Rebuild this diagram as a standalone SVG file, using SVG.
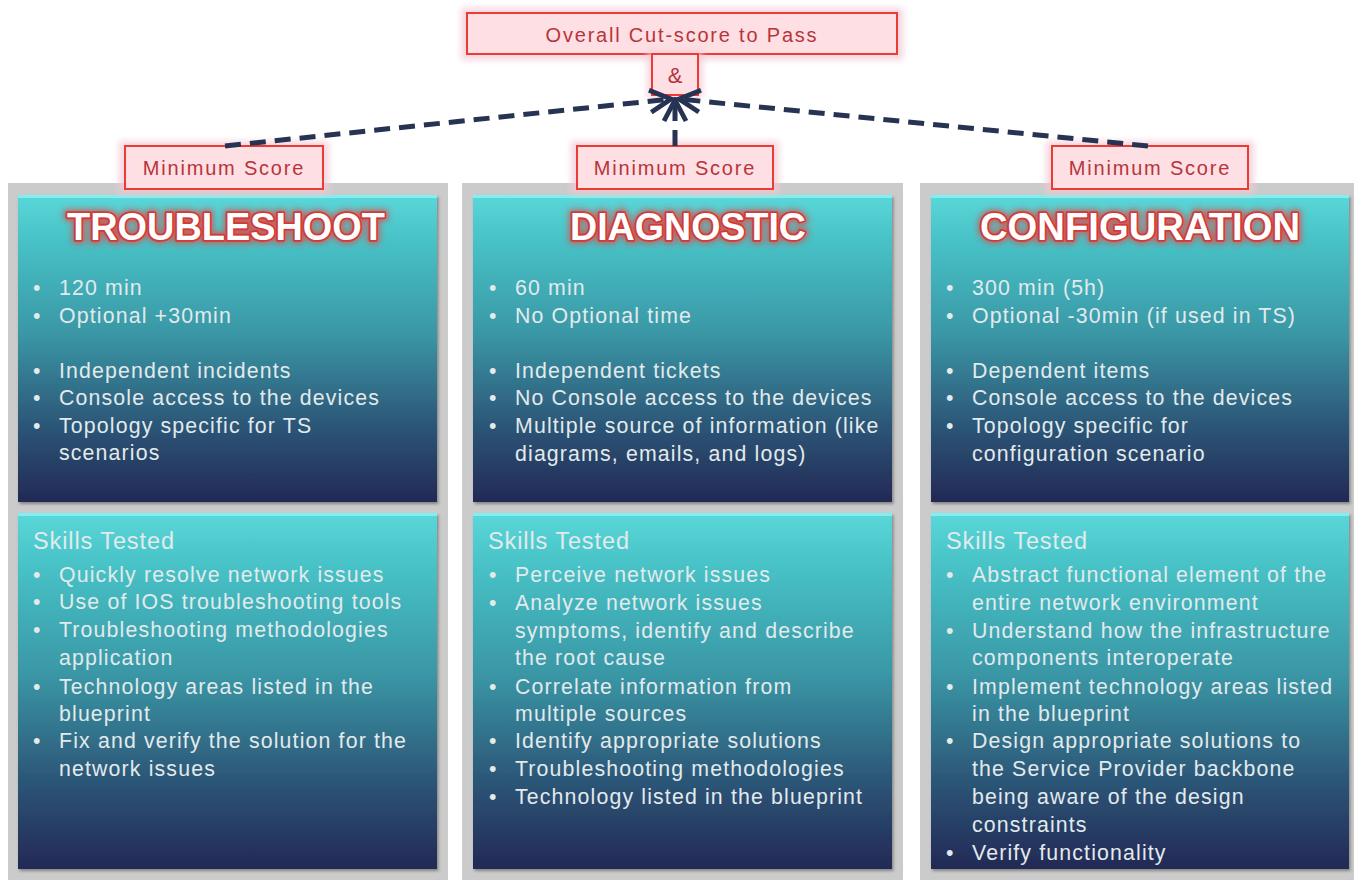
<svg xmlns="http://www.w3.org/2000/svg" width="1354" height="882" viewBox="0 0 1354 882">
  <style>
    .panel { fill: #cbcbcb; }
    .card { fill: url(#cardGrad); filter: url(#cardShadow); }
    .bevel { fill: #86f2f2; opacity: 0.9; }
    .title { font-family: "Liberation Sans", Arial, sans-serif; font-weight: 700; font-size: 38px; text-anchor: middle; }
    .title-glow { fill: #e04a48; stroke: #e04a48; stroke-width: 7; filter: url(#soften); opacity: 0.8; }
    .title-main { fill: #ffffff; stroke: #d23a36; stroke-width: 3.6; paint-order: stroke; stroke-linejoin: round; }
    .body { font-family: "Liberation Sans", Arial, sans-serif; font-size: 21.3px; letter-spacing: 1.15px; fill: #e2eaec; }
    .head { font-size: 23.5px; letter-spacing: 0.9px; }
    .tag-halo { fill: #f3c9d3; opacity: 0.75; filter: url(#soften); }
    .tag { fill: #fddfe4; stroke: #ec3b34; stroke-width: 2; }
    .tag-text { font-family: "Liberation Sans", Arial, sans-serif; font-size: 20px; letter-spacing: 1.8px; fill: #b8343a; text-anchor: middle; }
    .amp { font-size: 22px; letter-spacing: 0; }
    .link { fill: none; stroke: #263352; stroke-width: 5; stroke-dasharray: 16 9; }
  </style>
  <defs>
    <linearGradient id="cardGrad" x1="0" y1="0" x2="0" y2="1">
      <stop offset="0" stop-color="#5ad7d9"/>
      <stop offset="0.15" stop-color="#47c2c6"/>
      <stop offset="0.45" stop-color="#3a97a6"/>
      <stop offset="0.75" stop-color="#2c5677"/>
      <stop offset="1" stop-color="#232955"/>
    </linearGradient>
    <filter id="cardShadow" x="-5%" y="-5%" width="110%" height="110%">
      <feDropShadow dx="1.5" dy="2" stdDeviation="1.5" flood-color="#000" flood-opacity="0.35"/>
    </filter>
    <filter id="soften" x="-20%" y="-40%" width="140%" height="180%">
      <feGaussianBlur stdDeviation="3"/>
    </filter>
    <marker id="chevron" viewBox="0 0 28 28" refX="25" refY="14" markerWidth="28" markerHeight="28" markerUnits="userSpaceOnUse" orient="auto">
      <path d="M4,3 L25,14 L4,25" fill="none" stroke="#263352" stroke-width="4.8" stroke-linejoin="miter"/>
    </marker>
  </defs>

  <!-- gray backing panels -->
  <rect class="panel" x="8" y="183" width="440" height="697"/>
  <rect class="panel" x="462" y="183" width="441" height="697"/>
  <rect class="panel" x="920" y="183" width="434" height="697"/>

  <!-- top targets -->
  <g id="overall">
    <rect class="tag-halo" x="461" y="8" width="442" height="52"/>
    <rect class="tag" x="467" y="13" width="430" height="41"/>
    <text class="tag-text" x="682" y="42">Overall Cut-score to Pass</text>
  </g>
  <g id="and">
    <rect class="tag-halo" x="647" y="50" width="56" height="48"/>
    <rect class="tag" x="652" y="54" width="46" height="41"/>
    <text class="tag-text amp" x="675" y="83">&amp;</text>
  </g>

  <!-- TROUBLESHOOT column -->
  <g id="troubleshoot">
    <rect class="card" x="18" y="195" width="419" height="307"/>
    <rect class="bevel" x="18" y="195" width="419" height="3"/>
    <text class="title title-glow" x="226" y="240" textLength="318" lengthAdjust="spacingAndGlyphs">TROUBLESHOOT</text>
    <text class="title title-main" x="226" y="240" textLength="318" lengthAdjust="spacingAndGlyphs">TROUBLESHOOT</text>
    <text class="body">
      <tspan x="33" y="295">•</tspan><tspan x="59" y="295">120 min</tspan>
      <tspan x="33" y="323">•</tspan><tspan x="59" y="323">Optional +30min</tspan>
      <tspan x="33" y="378">•</tspan><tspan x="59" y="378">Independent incidents</tspan>
      <tspan x="33" y="405">•</tspan><tspan x="59" y="405">Console access to the devices</tspan>
      <tspan x="33" y="433">•</tspan><tspan x="59" y="433">Topology specific for TS</tspan>
      <tspan x="59" y="460">scenarios</tspan>
    </text>
  </g>
  <g id="troubleshoot-skills">
    <rect class="card" x="18" y="513" width="419" height="356"/>
    <rect class="bevel" x="18" y="513" width="419" height="3"/>
    <text class="body">
      <tspan class="head" x="33" y="549">Skills Tested</tspan>
      <tspan x="33" y="582">•</tspan><tspan x="59" y="582">Quickly resolve network issues</tspan>
      <tspan x="33" y="609">•</tspan><tspan x="59" y="609">Use of IOS troubleshooting tools</tspan>
      <tspan x="33" y="637">•</tspan><tspan x="59" y="637">Troubleshooting methodologies</tspan>
      <tspan x="59" y="665">application</tspan>
      <tspan x="33" y="694">•</tspan><tspan x="59" y="694">Technology areas listed in the</tspan>
      <tspan x="59" y="721">blueprint</tspan>
      <tspan x="33" y="748">•</tspan><tspan x="59" y="748">Fix and verify the solution for the</tspan>
      <tspan x="59" y="776">network issues</tspan>
    </text>
  </g>
  <g id="troubleshoot-min">
    <rect class="tag-halo" x="119" y="141" width="210" height="53"/>
    <rect class="tag" x="125" y="146" width="198" height="43"/>
    <text class="tag-text" x="224" y="175">Minimum Score</text>
  </g>

  <!-- DIAGNOSTIC column -->
  <g id="diagnostic">
    <rect class="card" x="473" y="195" width="419" height="307"/>
    <rect class="bevel" x="473" y="195" width="419" height="3"/>
    <text class="title title-glow" x="688" y="240" textLength="236" lengthAdjust="spacingAndGlyphs">DIAGNOSTIC</text>
    <text class="title title-main" x="688" y="240" textLength="236" lengthAdjust="spacingAndGlyphs">DIAGNOSTIC</text>
    <text class="body">
      <tspan x="489" y="295">•</tspan><tspan x="515" y="295">60 min</tspan>
      <tspan x="489" y="323">•</tspan><tspan x="515" y="323">No Optional time</tspan>
      <tspan x="489" y="378">•</tspan><tspan x="515" y="378">Independent tickets</tspan>
      <tspan x="489" y="405">•</tspan><tspan x="515" y="405">No Console access to the devices</tspan>
      <tspan x="489" y="433">•</tspan><tspan x="515" y="433">Multiple source of information (like</tspan>
      <tspan x="515" y="461">diagrams, emails, and logs)</tspan>
    </text>
  </g>
  <g id="diagnostic-skills">
    <rect class="card" x="473" y="513" width="419" height="356"/>
    <rect class="bevel" x="473" y="513" width="419" height="3"/>
    <text class="body">
      <tspan class="head" x="488" y="549">Skills Tested</tspan>
      <tspan x="489" y="582">•</tspan><tspan x="515" y="582">Perceive network issues</tspan>
      <tspan x="489" y="610">•</tspan><tspan x="515" y="610">Analyze network issues</tspan>
      <tspan x="515" y="638">symptoms, identify and describe</tspan>
      <tspan x="515" y="665">the root cause</tspan>
      <tspan x="489" y="694">•</tspan><tspan x="515" y="694">Correlate information from</tspan>
      <tspan x="515" y="721">multiple sources</tspan>
      <tspan x="489" y="748">•</tspan><tspan x="515" y="748">Identify appropriate solutions</tspan>
      <tspan x="489" y="776">•</tspan><tspan x="515" y="776">Troubleshooting methodologies</tspan>
      <tspan x="489" y="804">•</tspan><tspan x="515" y="804">Technology listed in the blueprint</tspan>
    </text>
  </g>
  <g id="diagnostic-min">
    <rect class="tag-halo" x="571" y="141" width="208" height="53"/>
    <rect class="tag" x="577" y="146" width="196" height="43"/>
    <text class="tag-text" x="675" y="175">Minimum Score</text>
  </g>

  <!-- CONFIGURATION column -->
  <g id="configuration">
    <rect class="card" x="931" y="195" width="418" height="307"/>
    <rect class="bevel" x="931" y="195" width="418" height="3"/>
    <text class="title title-glow" x="1140" y="240" textLength="320" lengthAdjust="spacingAndGlyphs">CONFIGURATION</text>
    <text class="title title-main" x="1140" y="240" textLength="320" lengthAdjust="spacingAndGlyphs">CONFIGURATION</text>
    <text class="body">
      <tspan x="946" y="295">•</tspan><tspan x="972" y="295">300 min (5h)</tspan>
      <tspan x="946" y="323">•</tspan><tspan x="972" y="323">Optional -30min (if used in TS)</tspan>
      <tspan x="946" y="378">•</tspan><tspan x="972" y="378">Dependent items</tspan>
      <tspan x="946" y="405">•</tspan><tspan x="972" y="405">Console access to the devices</tspan>
      <tspan x="946" y="433">•</tspan><tspan x="972" y="433">Topology specific for</tspan>
      <tspan x="972" y="461">configuration scenario</tspan>
    </text>
  </g>
  <g id="configuration-skills">
    <rect class="card" x="931" y="513" width="418" height="356"/>
    <rect class="bevel" x="931" y="513" width="418" height="3"/>
    <text class="body">
      <tspan class="head" x="946" y="549">Skills Tested</tspan>
      <tspan x="946" y="582">•</tspan><tspan x="972" y="582">Abstract functional element of the</tspan>
      <tspan x="972" y="610">entire network environment</tspan>
      <tspan x="946" y="638">•</tspan><tspan x="972" y="638">Understand how the infrastructure</tspan>
      <tspan x="972" y="665">components interoperate</tspan>
      <tspan x="946" y="694">•</tspan><tspan x="972" y="694">Implement technology areas listed</tspan>
      <tspan x="972" y="721">in the blueprint</tspan>
      <tspan x="946" y="748">•</tspan><tspan x="972" y="748">Design appropriate solutions to</tspan>
      <tspan x="972" y="776">the Service Provider backbone</tspan>
      <tspan x="972" y="804">being aware of the design</tspan>
      <tspan x="972" y="832">constraints</tspan>
      <tspan x="946" y="860">•</tspan><tspan x="972" y="860">Verify functionality</tspan>
    </text>
  </g>
  <g id="configuration-min">
    <rect class="tag-halo" x="1046" y="141" width="208" height="53"/>
    <rect class="tag" x="1052" y="146" width="196" height="43"/>
    <text class="tag-text" x="1150" y="175">Minimum Score</text>
  </g>

  <!-- dashed connectors: each minimum score feeds the overall cut-score -->
  <g id="connectors">
    <path class="link" d="M225,146 L671,99" marker-end="url(#chevron)"/>
    <path class="link" d="M675,146 L675,100" marker-end="url(#chevron)"/>
    <path class="link" d="M1148,146 L679,99" marker-end="url(#chevron)"/>
  </g>
</svg>
